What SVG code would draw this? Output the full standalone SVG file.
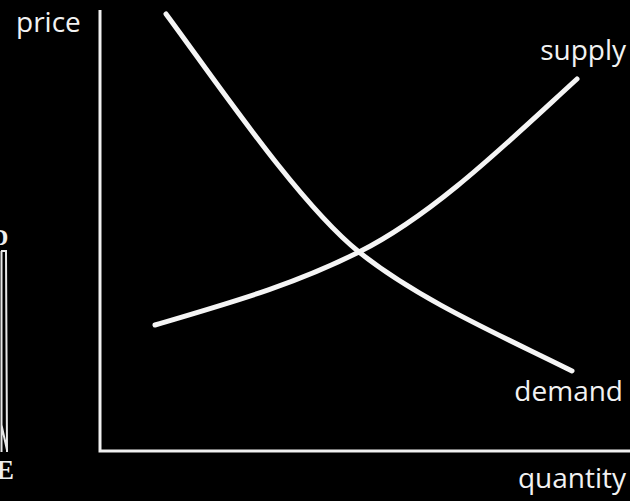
<svg xmlns="http://www.w3.org/2000/svg" width="630" height="501" viewBox="0 0 630 501">
<style>
.lbl{font-family:"Open Sans","Noto Sans",sans-serif;font-size:28px;font-weight:500;fill:#f2f2f2}
.curve{fill:none;stroke:#f5f5f5;stroke-width:5;stroke-linecap:round}
.axis{fill:none;stroke:#f0f0f0;stroke-width:3}
.edge{font-family:"Liberation Serif",serif;font-weight:bold;fill:#eeeeee}
</style>
<rect width="630" height="501" fill="#000"/>
<g id="edge-marks">
<text class="edge" x="-9" y="245" font-size="24">D</text>
<path d="M1.5,251 L1.5,452 M6,251 L7,452 M1.5,425 L7,450 M1,251 L7,251" fill="none" stroke="#e8e8e8" stroke-width="2"/>
<text class="edge" x="-4" y="479" font-size="27">E</text>
</g>
<g id="axes">
<path class="axis" d="M100,10 L100,451 L630,451"/>
</g>
<g id="connectors">
<path id="demand-curve" class="curve" d="M166,14 C215,80 299,204 359,252 C419,300 502,336 572,371"/>
<path id="supply-curve" class="curve" d="M155,325 C225,304 289,287 359,252 C434,214.5 507,143 577,79"/>
</g>
<g id="label-price"><text class="lbl" x="16" y="32">price</text></g>
<g id="label-supply"><text class="lbl" x="626" y="60" text-anchor="end">supply</text></g>
<g id="label-demand"><text class="lbl" x="623" y="401" text-anchor="end">demand</text></g>
<g id="label-quantity"><text class="lbl" x="626" y="488" text-anchor="end">quantity</text></g>
</svg>
